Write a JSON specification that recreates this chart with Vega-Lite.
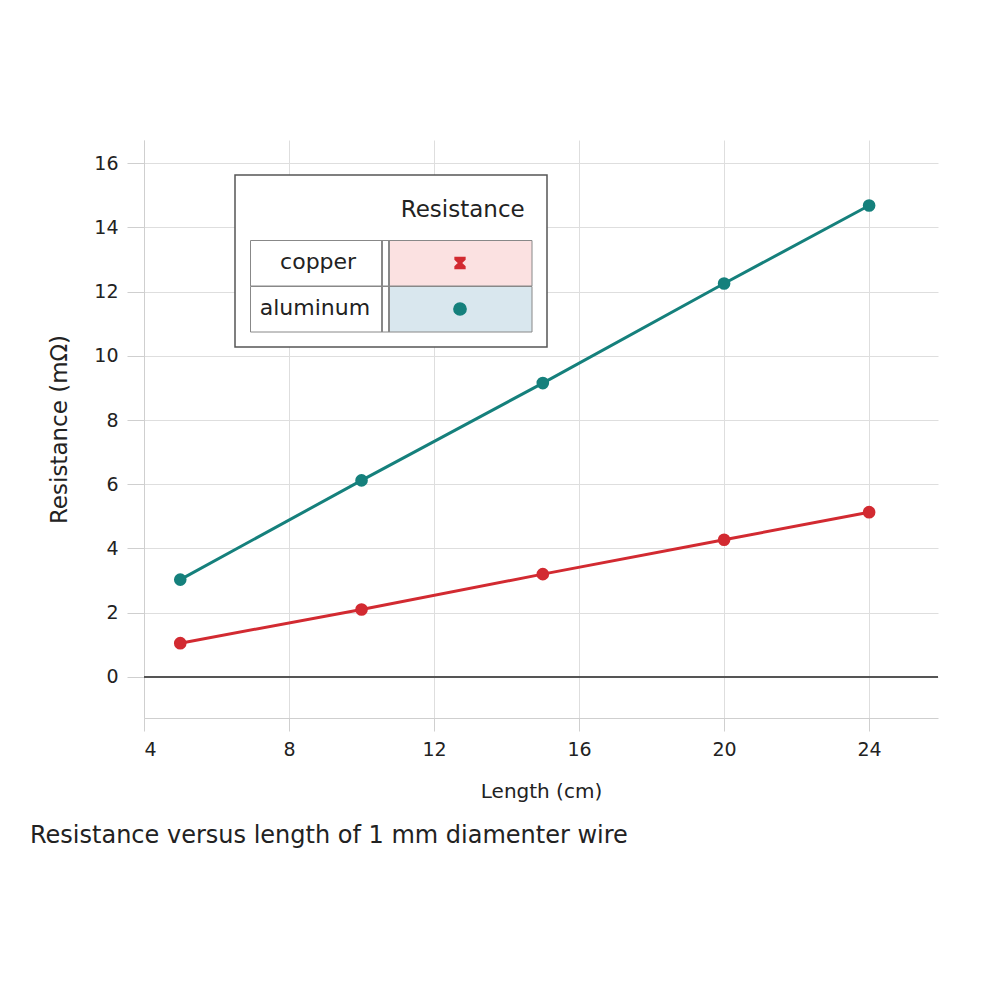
{
  "$schema": "https://vega.github.io/schema/vega-lite/v6.json",
  "width": 794,
  "height": 578,
  "autosize": "none",
  "padding": {"left": 144, "top": 140, "right": 62, "bottom": 282},
  "background": "white",
  "config": {
    "font": "DejaVu Sans",
    "view": {"stroke": null},
    "axis": {
      "domainColor": "#cfcfcf",
      "gridColor": "#dedede",
      "tickColor": "#cfcfcf",
      "labelColor": "#222",
      "titleColor": "#222",
      "labelFontSize": 19,
      "titleFontWeight": "normal"
    }
  },
  "title": {
    "text": "Resistance versus length of 1 mm diamenter wire",
    "orient": "bottom",
    "anchor": "start",
    "frame": "group",
    "dx": -114,
    "offset": 23,
    "fontSize": 24,
    "fontWeight": "normal",
    "color": "#222"
  },
  "data": {
    "values": [
      {"length": 5, "material": "copper", "resistance": 1.05},
      {"length": 10, "material": "copper", "resistance": 2.1},
      {"length": 15, "material": "copper", "resistance": 3.2},
      {"length": 20, "material": "copper", "resistance": 4.27},
      {"length": 24, "material": "copper", "resistance": 5.13},
      {"length": 5, "material": "aluminum", "resistance": 3.03},
      {"length": 10, "material": "aluminum", "resistance": 6.12},
      {"length": 15, "material": "aluminum", "resistance": 9.15},
      {"length": 20, "material": "aluminum", "resistance": 12.25},
      {"length": 24, "material": "aluminum", "resistance": 14.68}
    ]
  },
  "encoding": {
    "x": {
      "field": "length",
      "type": "quantitative",
      "title": "Length (cm)",
      "scale": {"domain": [4, 25.9], "nice": false, "zero": false},
      "axis": {"values": [4, 8, 12, 16, 20, 24], "tickSize": 13, "labelPadding": 9, "titlePadding": 22, "titleFontSize": 20}
    },
    "y": {
      "field": "resistance",
      "type": "quantitative",
      "title": "Resistance (mΩ)",
      "scale": {"domain": [-1.28, 16.72], "nice": false, "zero": false},
      "axis": {"values": [0, 2, 4, 6, 8, 10, 12, 14, 16], "tickSize": 17, "labelPadding": 9, "titlePadding": 22, "titleFontSize": 23}
    },
    "color": {
      "field": "material",
      "type": "nominal",
      "scale": {"domain": ["copper", "aluminum"], "range": ["#d22a31", "#15807c"]},
      "legend": {
        "orient": "none",
        "legendX": 91,
        "legendY": 35,
        "title": "Resistance\u00a0\u200b",
        "titleFontSize": 23,
        "titleFontWeight": "normal",
        "titleColor": "#222",
        "titleAnchor": "end",
        "titlePadding": 27,
        "labelFontSize": 22,
        "labelColor": "#222",
        "labelLimit": 400,
        "labelExpr": "datum.label === 'copper' ? ['copper\u00a0\u00a0\u00a0\u00a0\u00a0\u00a0\u00a0\u00a0\u00a0\u00a0\u00a0\u00a0\u00a0\u00a0\u00a0\u00a0\u00a0\u00a0\u00a0\u00a0\u00a0\u00a0\u00a0\u00a0\u00a0\u200b', '\u00a0\u200b'] : ['aluminum\u00a0\u00a0\u00a0\u00a0\u00a0\u00a0\u00a0\u00a0\u00a0\u00a0\u00a0\u00a0\u00a0\u00a0\u00a0\u00a0\u00a0\u00a0\u00a0\u00a0\u00a0\u00a0\u00a0\u200b', '\u00a0\u200b']",
        "symbolSize": 150,
        "symbolType": "circle",
        "rowPadding": 0,
        "padding": 15,
        "fillColor": "white",
        "strokeColor": "#555",
        "encode": {
          "legend": {
            "update": {"strokeWidth": {"value": 1.5}}
          },
          "title": {
            "update": {"dy": {"value": 9}}
          },
          "symbols": {
            "update": {
              "x": {"value": 210},
              "y": {"value": 23},
              "shape": {"signal": "datum.value === 'copper' ? 'M-0.8,-0.9L0.8,-0.9L0.8,-0.6L0.2,0L0.8,0.6L0.8,0.9L-0.8,0.9L-0.8,0.6L-0.2,0L-0.8,-0.6Z' : 'circle'"}
            }
          },
          "labels": {
            "update": {
              "x": {"value": 281},
              "y": {"value": 12},
              "align": {"value": "right"},
              "baseline": {"value": "top"},
              "lineHeight": {"value": 12}
            }
          },
          "entries": {
            "update": {
              "stroke": {"value": "#888"},
              "strokeWidth": {"value": 1},
              "fill": {"signal": "{gradient: 'linear', x1: 0, y1: 0, x2: 1, y2: 0, stops: [{offset: 0, color: 'white'}, {offset: 0.463, color: 'white'}, {offset: 0.463, color: '#888'}, {offset: 0.47, color: '#888'}, {offset: 0.47, color: 'white'}, {offset: 0.488, color: 'white'}, {offset: 0.488, color: '#888'}, {offset: 0.494, color: '#888'}, {offset: 0.494, color: datum.index === 0 ? '#fbe1e1' : '#d9e7ee'}, {offset: 1, color: datum.index === 0 ? '#fbe1e1' : '#d9e7ee'}]}"}
            }
          }
        }
      }
    }
  },
  "layer": [
    {
      "mark": {"type": "rule", "color": "#555", "strokeWidth": 2},
      "encoding": {"y": {"datum": 0}, "x": {"value": 0}, "x2": {"value": 794}, "color": {"value": "#555"}}
    },
    {
      "mark": {"type": "line", "strokeWidth": 3}
    },
    {
      "mark": {"type": "point", "filled": true, "opacity": 1, "size": 160, "shape": "circle"}
    }
  ]
}
